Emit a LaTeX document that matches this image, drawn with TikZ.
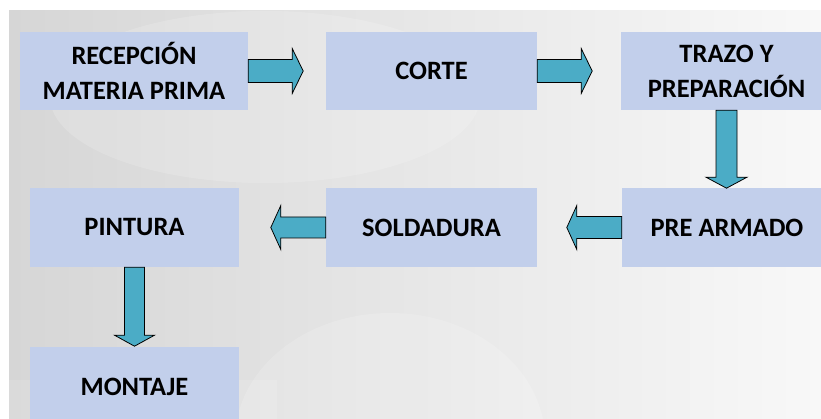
\documentclass[tikz,border=0pt]{standalone}
\usepackage{fontspec}
\setmainfont{Carlito}
\definecolor{boxblue}{RGB}{194,207,235}
\definecolor{arrowteal}{RGB}{75,172,198}
\definecolor{bgleft}{RGB}{214,214,214}
\definecolor{bgright}{RGB}{248,248,248}
\tikzset{
  stepbox/.style={fill=boxblue, draw=none, align=center, inner sep=0pt,
    font=\fontsize{26.5}{35}\selectfont\bfseries, text=black},
  barrow/.style={fill=arrowteal, draw=black, line width=0.8pt, line join=miter},
  % block arrow: length, shaft half-width, head half-width, head length
  pics/blockarrow/.style n args={4}{code={
    \path[barrow] (0,-#2) -- ({#1-#4},-#2) -- ({#1-#4},-#3) -- (#1,0)
      -- ({#1-#4},#3) -- ({#1-#4},#2) -- (0,#2) -- cycle;
  }}
}
\begin{document}
\begin{tikzpicture}[x=1pt, y=-1pt]
\useasboundingbox (0,0) rectangle (821,419);
\clip (0,0) rectangle (821,419);

% backdrop
\fill[white] (0,0) rectangle (821,419);
\shade[left color=bgleft, right color=bgright] (9,11) rectangle (821,419);
\fill[white, opacity=0.16] (265,97) ellipse [x radius=215, y radius=86];
\fill[white, opacity=0.16] (390,440) ellipse [x radius=155, y radius=127];
\fill[white, opacity=0.12] (9,380) rectangle (277,419);

% process steps
\node[stepbox, minimum width=228pt, minimum height=78pt] (rec)   at (134,71)     {RECEPCIÓN\\MATERIA PRIMA};
\node[stepbox, minimum width=211pt, minimum height=78pt] (corte) at (431.5,71)   {CORTE};
\node[stepbox, minimum width=211pt, minimum height=78pt] (trazo) at (726.5,71)   {TRAZO Y\\PREPARACIÓN};
\node[stepbox, minimum width=210pt, minimum height=79pt] (pre)   at (727,227.5)  {PRE ARMADO};
\node[stepbox, minimum width=211pt, minimum height=79pt] (sold)  at (431.5,227.5){SOLDADURA};
\node[stepbox, minimum width=209pt, minimum height=79pt] (pint)  at (134.5,227.5){PINTURA};
\node[stepbox, minimum width=209pt, minimum height=79pt] (mont)  at (134.5,386.5){MONTAJE};

% flow arrows
\pic at (rec.east)               {blockarrow={55}{11.5}{22.5}{11}};
\pic at (corte.east)             {blockarrow={55}{11.5}{22.5}{11}};
\pic[rotate=-90] at (trazo.south){blockarrow={78}{10.5}{20.5}{11}};
\pic[rotate=180] at (pre.west)   {blockarrow={55}{11}{22}{10}};
\pic[rotate=180] at (sold.west)  {blockarrow={55}{10.5}{22}{10}};
\pic[rotate=-90] at (pint.south) {blockarrow={79}{10}{20}{11}};
\end{tikzpicture}
\end{document}
